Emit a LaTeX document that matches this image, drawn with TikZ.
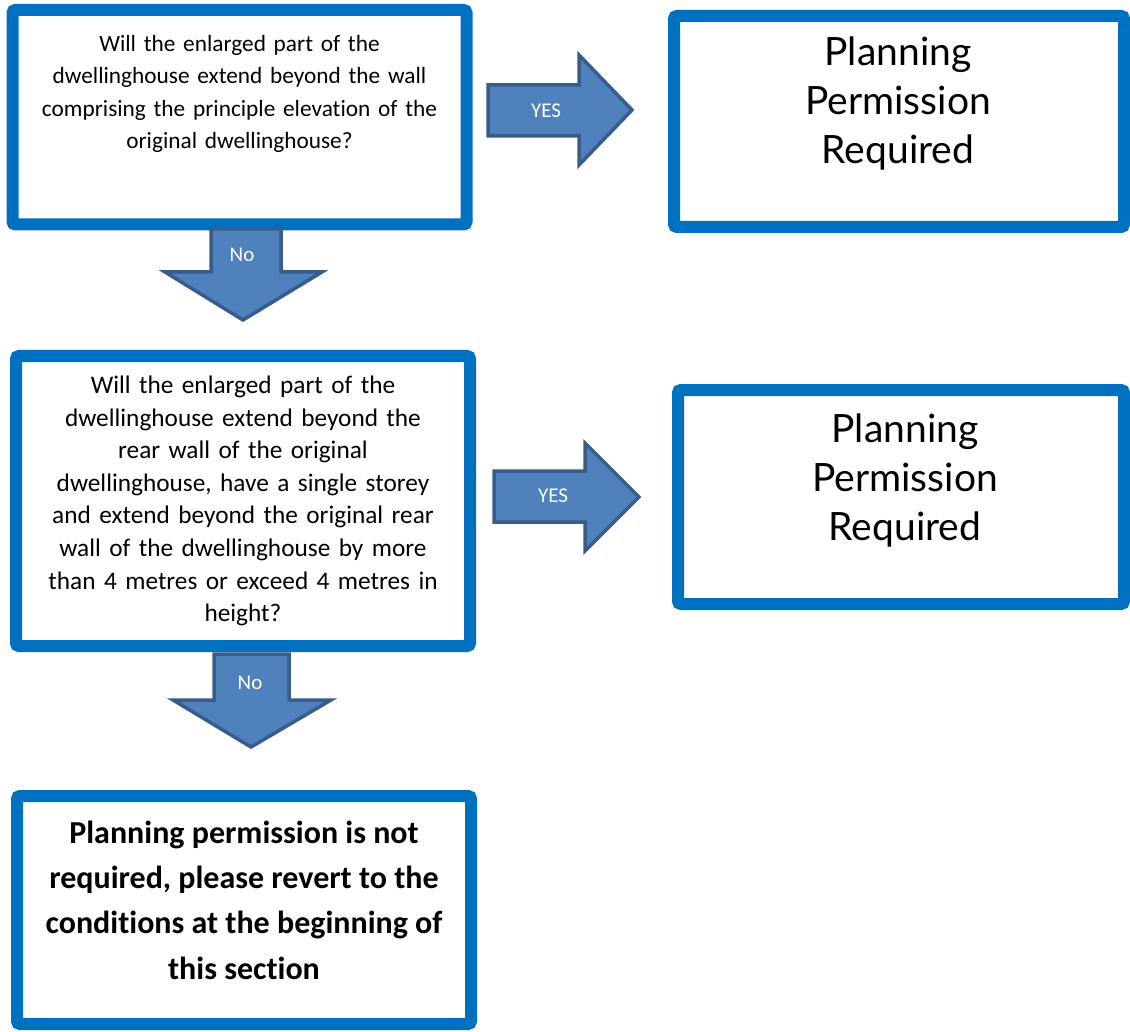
\documentclass[tikz,border=0pt]{standalone}
\usepackage{fontspec}
\setmainfont{Carlito}[Ligatures=NoCommon]
\newfontfamily\titlefont{Lato}
\begin{document}
\begin{tikzpicture}[x=1pt,y=-1pt,
  frame/.style={draw=boxblue,line width=12pt,rounded corners=3pt,fill=white},
  question/.style={align=center,text width=440pt,text=black,inner sep=0pt},
  verdict/.style={align=center,font=\titlefont\fontsize{39}{49}\selectfont,text=black,inner sep=0pt},
  blockarrow/.style={draw=arrowedge,fill=arrowfill,line width=3.5pt,line join=miter},
  arrowlabel/.style={text=white,inner sep=0pt,font=\fontsize{21}{22}\selectfont}]
\definecolor{boxblue}{RGB}{0,112,192}
\definecolor{arrowfill}{RGB}{79,129,189}
\definecolor{arrowedge}{RGB}{56,93,138}
\useasboundingbox (0,0) rectangle (1130,1032);

% decision and outcome boxes
\draw[frame] (12.5,10) rectangle (466.5,224.5);
\coordinate (q1) at (239.5,117);
\draw[frame] (674,16) rectangle (1124,227);
\coordinate (r1) at (899,121);
\draw[frame] (16,356) rectangle (470,646);
\coordinate (q2) at (243,501);
\draw[frame] (678,390) rectangle (1124,604);
\coordinate (r2) at (901,497);
\draw[frame] (17,796) rectangle (471,1024);
\coordinate (fin) at (244,910);

% texts
\node[question,anchor=north,font=\fontsize{23.3}{32.5}\selectfont] (q1text) at (239.5,35)
  {Will the enlarged part of the\\dwellinghouse extend beyond the wall\\comprising the principle elevation of the\\original dwellinghouse?};
\node[verdict,anchor=north] (r1text) at (898,37) {Planning\\Permission\\Required};
\node[question,font=\fontsize{25.3}{32.6}\selectfont] (q2text) at (q2)
  {Will the enlarged part of the\\dwellinghouse extend beyond the\\rear wall of the original\\dwellinghouse, have a single storey\\and extend beyond the original rear\\wall of the dwellinghouse by more\\than 4 metres or exceed 4 metres in\\height?};
\node[verdict,anchor=north] (r2text) at (905,414) {Planning\\Permission\\Required};
\node[align=center,inner sep=0pt,font=\bfseries\fontsize{32}{45.3}\selectfont] (fintext) at (244,900)
  {Planning permission is not\\required, please revert to the\\conditions at the beginning of\\this section};

% block arrows between boxes
\draw[blockarrow] (488,85) -- (579,85) -- (579,55) -- (632,110) -- (579,165) -- (579,136) -- (488,136) -- cycle;
\node[arrowlabel] (yes1) at (546,111) {YES};
\draw[blockarrow] (494,471) -- (585,471) -- (585,443) -- (639,497) -- (585,551) -- (585,522) -- (494,522) -- cycle;
\node[arrowlabel] (yes2) at (553,496) {YES};
\draw[blockarrow] (211,229) -- (281,229) -- (281,272) -- (322,272) -- (243,320) -- (165,272) -- (211,272) -- cycle;
\node[arrowlabel] (no1) at (242,255) {No};
\draw[blockarrow] (214,654) -- (289,654) -- (289,700) -- (331,700) -- (251,747) -- (173,700) -- (214,700) -- cycle;
\node[arrowlabel] (no2) at (250,683) {No};
\end{tikzpicture}
\end{document}
